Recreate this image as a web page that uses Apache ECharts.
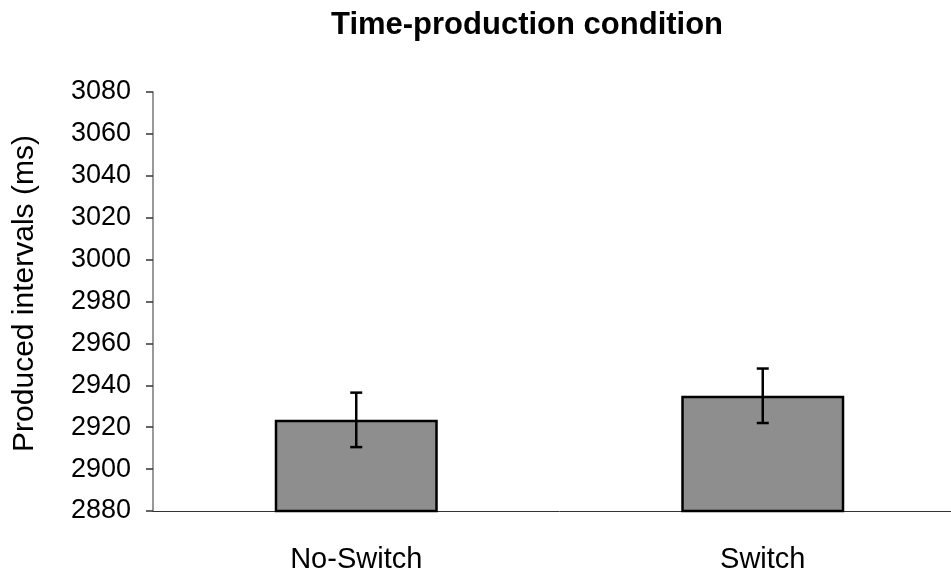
<!DOCTYPE html>
<html>
<head>
<meta charset="utf-8">
<script src="https://cdn.jsdelivr.net/npm/echarts@6/dist/echarts.min.js"></script>
<style>html,body{margin:0;padding:0;background:#fff;overflow:hidden}#c{width:966px;height:577px}</style>
</head>
<body>
<div id="c"></div>
<script>
var categories = ['No-Switch', 'Switch'];
var means = [2923.5, 2935];
var errLow = [2910.5, 2922];
var errHigh = [2936.5, 2948];
var yTicks = [2880, 2900, 2920, 2940, 2960, 2980, 3000, 3020, 3040, 3060, 3080];

var chart = echarts.init(document.getElementById('c'), null, {renderer: 'canvas'});
var FONT = 'Liberation Sans, Arial, sans-serif';
chart.setOption({
  animation: false,
  backgroundColor: '#fff',
  title: {
    text: 'Time-production condition',
    left: 326, top: 5,
    textStyle: {fontFamily: FONT, fontSize: 31, fontWeight: 'bold', color: '#000'}
  },
  grid: {left: 153, right: 0, top: 92, bottom: 66, containLabel: false},
  xAxis: {
    type: 'category',
    data: categories,
    axisLine: {lineStyle: {color: '#333', width: 1}},
    axisTick: {show: false},
    axisLabel: {fontFamily: FONT, fontSize: 29, color: '#000', margin: 34}
  },
  yAxis: {
    type: 'value',
    min: yTicks[0], max: yTicks[yTicks.length - 1], interval: 20,
    name: 'Produced intervals (ms)',
    nameLocation: 'middle',
    nameGap: 113,
    nameRotate: 90,
    nameTextStyle: {fontFamily: FONT, fontSize: 30, color: '#000', padding: [0, 0, 0, 16]},
    axisLine: {show: true, lineStyle: {color: '#777', width: 1.5}},
    axisTick: {show: true, length: 7, lineStyle: {color: '#333', width: 1.5}},
    splitLine: {show: false},
    axisLabel: {fontFamily: FONT, fontSize: 27, color: '#000', margin: 22,
      formatter: function (v) { return String(v); }}
  },
  series: [
    {
      type: 'bar',
      data: means,
      barWidth: 163,
      itemStyle: {color: '#8e8e8e', borderColor: '#000', borderWidth: 2.5},
      z: 2
    },
    {
      type: 'custom',
      z: 5,
      data: categories.map(function (c, i) { return [i, errLow[i], errHigh[i]]; }),
      renderItem: function (params, api) {
        var x = api.value(0);
        var lo = api.coord([x, api.value(1)]);
        var hi = api.coord([x, api.value(2)]);
        var hw = 6;
        var st = {stroke: '#000', lineWidth: 2.5, fill: null};
        return {
          type: 'group',
          children: [
            {type: 'line', shape: {x1: hi[0], y1: hi[1], x2: lo[0], y2: lo[1]}, style: st},
            {type: 'line', shape: {x1: hi[0] - hw, y1: hi[1], x2: hi[0] + hw, y2: hi[1]}, style: st},
            {type: 'line', shape: {x1: lo[0] - hw, y1: lo[1], x2: lo[0] + hw, y2: lo[1]}, style: st}
          ]
        };
      }
    }
  ]
});
</script>
</body>
</html>
